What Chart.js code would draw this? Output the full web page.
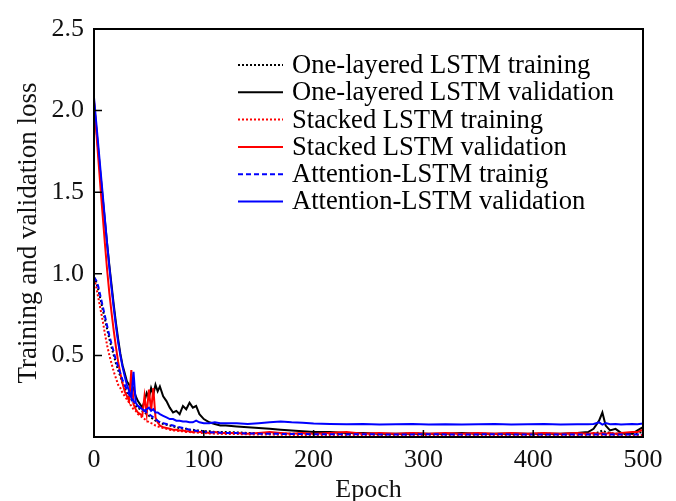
<!DOCTYPE html>
<html>
<head>
<meta charset="utf-8">
<script src="https://cdn.jsdelivr.net/npm/chart.js@4.4.1/dist/chart.umd.min.js"></script>
<style>
  html, body { margin: 0; padding: 0; background: #fff; }
  #wrap { width: 676px; height: 501px; }
</style>
</head>
<body>
<div id="wrap"><canvas id="chart" width="676" height="501"></canvas></div>
<script>
var epochs = [0,2,4,6,8,10,12,14,16,18,20,22,24,26,28,30,32,34,36,38,40,42,44,46,48,50,52,54,56,58,60,
  63,66,69,72,75,78,81,84,87,90,93,96,
  100,105,110,115,120,
  130,140,150,160,170,180,190,200,
  215,230,245,260,275,290,305,320,335,350,365,380,395,410,425,440,
  450,455,460,463,466,470,475,480,490,495,500]

var oneTrain = [0.98,0.95,0.90,0.84,0.78,0.72,0.66,0.60,0.55,0.50,0.45,0.41,0.37,0.33,0.30,0.27,0.25,0.23,0.21,0.19,0.18,0.17,0.16,0.15,0.14,0.13,0.12,0.11,0.10,0.095,0.09,
  0.08,0.075,0.07,0.065,0.06,0.055,0.05,0.05,0.045,0.045,0.04,0.04,
  0.035,0.035,0.03,0.03,0.03,
  0.028,0.025,0.025,0.022,0.02,0.02,0.02,0.018,
  0.018,0.02,0.018,0.017,0.018,0.02,0.018,0.017,0.018,0.02,0.018,0.017,0.018,0.02,0.018,0.017,
  0.018,0.02,0.03,0.04,0.03,0.025,0.02,0.018,0.02,0.025,0.03]

var oneVal = [2.05,1.90,1.75,1.60,1.46,1.32,1.18,1.05,0.93,0.81,0.70,0.60,0.51,0.44,0.39,0.34,0.32,0.28,0.30,0.25,0.22,0.20,0.18,0.22,0.27,0.24,0.30,0.26,0.32,0.28,0.31,
  0.25,0.22,0.18,0.15,0.16,0.14,0.19,0.17,0.21,0.18,0.19,0.14,
  0.11,0.09,0.08,0.07,0.07,
  0.065,0.06,0.055,0.05,0.045,0.04,0.035,0.03,
  0.03,0.025,0.025,0.02,0.02,0.022,0.02,0.02,0.025,0.02,0.02,0.022,0.02,0.02,0.02,0.025,
  0.03,0.05,0.10,0.15,0.07,0.04,0.05,0.025,0.02,0.04,0.06]

var stackTrain = [0.97,0.92,0.85,0.78,0.71,0.63,0.56,0.50,0.45,0.40,0.36,0.32,0.30,0.27,0.25,0.23,0.21,0.19,0.17,0.16,0.14,0.13,0.12,0.11,0.10,0.09,0.085,0.08,0.07,0.065,0.06,
  0.055,0.05,0.045,0.04,0.04,0.035,0.035,0.03,0.03,0.028,0.028,0.025,
  0.025,0.022,0.02,0.02,0.018,
  0.018,0.016,0.015,0.015,0.014,0.013,0.013,0.012,
  0.012,0.013,0.012,0.011,0.012,0.013,0.012,0.011,0.012,0.012,0.011,0.012,0.013,0.012,0.011,0.012,
  0.012,0.011,0.012,0.013,0.012,0.011,0.012,0.012,0.011,0.012,0.013]

var stackVal = [2.06,1.88,1.70,1.52,1.35,1.18,1.02,0.88,0.76,0.65,0.55,0.46,0.39,0.33,0.28,0.25,0.22,0.41,0.20,0.17,0.15,0.14,0.13,0.25,0.14,0.29,0.16,0.30,0.12,0.09,0.07,
  0.06,0.055,0.05,0.045,0.045,0.04,0.04,0.035,0.035,0.03,0.035,0.03,
  0.03,0.025,0.03,0.025,0.025,
  0.025,0.02,0.025,0.03,0.025,0.02,0.025,0.02,
  0.025,0.03,0.02,0.025,0.02,0.025,0.02,0.025,0.02,0.025,0.02,0.025,0.02,0.025,0.02,0.025,
  0.02,0.025,0.02,0.025,0.02,0.025,0.02,0.025,0.03,0.03,0.045]

var attTrain = [0.98,0.96,0.92,0.86,0.80,0.74,0.68,0.62,0.57,0.52,0.47,0.43,0.39,0.35,0.32,0.29,0.26,0.24,0.22,0.20,0.19,0.18,0.17,0.16,0.15,0.14,0.13,0.12,0.11,0.10,0.09,
  0.085,0.08,0.075,0.07,0.065,0.06,0.055,0.05,0.045,0.04,0.038,0.035,
  0.032,0.03,0.028,0.026,0.025,
  0.024,0.022,0.02,0.02,0.019,0.018,0.018,0.017,
  0.017,0.016,0.017,0.016,0.015,0.016,0.017,0.016,0.015,0.016,0.017,0.016,0.015,0.016,0.016,0.015,
  0.016,0.015,0.016,0.017,0.016,0.015,0.016,0.016,0.015,0.016,0.017]

var attVal = [2.08,1.93,1.78,1.63,1.48,1.33,1.18,1.04,0.91,0.79,0.68,0.58,0.50,0.43,0.37,0.32,0.28,0.24,0.40,0.21,0.19,0.18,0.17,0.16,0.17,0.18,0.16,0.17,0.15,0.15,0.14,
  0.13,0.12,0.11,0.11,0.10,0.10,0.095,0.095,0.09,0.09,0.10,0.09,
  0.085,0.085,0.09,0.085,0.085,
  0.085,0.08,0.085,0.09,0.095,0.09,0.088,0.082,
  0.08,0.078,0.08,0.076,0.078,0.08,0.077,0.078,0.076,0.078,0.08,0.077,0.078,0.08,0.077,0.078,
  0.078,0.08,0.09,0.076,0.085,0.078,0.08,0.077,0.08,0.078,0.082]

var seriesNames = ['One-layered LSTM training', 'One-layered LSTM validation',
  'Stacked LSTM training', 'Stacked LSTM validation',
  'Attention-LSTM trainig', 'Attention-LSTM validation']

var serif = '"Liberation Serif", "Times New Roman", serif'

function pts(vals) {
  return vals.map(function (v, i) { return { x: epochs[i], y: v } })
}

function line(label, vals, color, dash, order) {
  return {
    label: label,
    data: pts(vals),
    borderColor: color,
    borderWidth: 2,
    borderDash: dash,
    pointRadius: 0,
    tension: 0,
    fill: false,
    order: order
  }
}

// legend drawn inside the plot, top right
const insideLegend = {
  id: 'insideLegend',
  afterDatasetsDraw(chart) {
    const ctx = chart.ctx
    const a = chart.chartArea
    ctx.save()
    ctx.font = '26.6px ' + serif
    ctx.textBaseline = 'middle'
    chart.data.datasets.forEach(function (ds, i) {
      let y = a.top + 36 + i * 27.3
      ctx.strokeStyle = ds.borderColor
      ctx.lineWidth = 2
      ctx.setLineDash(ds.borderDash || [])
      ctx.beginPath()
      ctx.moveTo(a.left + 144, y)
      ctx.lineTo(a.left + 189, y)
      ctx.stroke()
      ctx.setLineDash([])
      ctx.fillStyle = '#000'
      ctx.fillText(ds.label, a.left + 198, y + 1)
    })
    ctx.restore()
  }
}

// box around the plot and inward tick marks
const frame = {
  id: 'frame',
  afterDraw(chart) {
    const ctx = chart.ctx
    const a = chart.chartArea
    const xs = chart.scales.x
    const ys = chart.scales.y
    ctx.save()
    ctx.strokeStyle = '#000'
    ctx.lineWidth = 2
    ctx.strokeRect(a.left, a.top, a.right - a.left, a.bottom - a.top)
    ctx.lineWidth = 1.5
    ctx.beginPath()
    xs.ticks.forEach(function (t) {
      if (t.value > xs.min && t.value < xs.max) {
        let px = xs.getPixelForValue(t.value)
        ctx.moveTo(px, a.bottom)
        ctx.lineTo(px, a.bottom - 7)
      }
    })
    ys.ticks.forEach(function (t) {
      if (t.value > ys.min && t.value < ys.max) {
        let py = ys.getPixelForValue(t.value)
        ctx.moveTo(a.left, py)
        ctx.lineTo(a.left + 8, py)
      }
    })
    ctx.stroke()
    ctx.restore()
  }
}

var ctx = document.getElementById('chart').getContext('2d')
var chart = new Chart(ctx, {
  type: 'line',
  data: {
    datasets: [
      line(seriesNames[0], oneTrain, '#000000', [2, 2], 5),
      line(seriesNames[1], oneVal, '#000000', [], 3),
      line(seriesNames[2], stackTrain, '#ff0000', [2, 2], 4),
      line(seriesNames[3], stackVal, '#ff0000', [], 2),
      line(seriesNames[4], attTrain, '#0000ff', [5, 3], 1),
      line(seriesNames[5], attVal, '#0000ff', [], 0)
    ]
  },
  options: {
    responsive: false,
    animation: false,
    layout: { padding: { top: 29, right: 33, left: 0, bottom: 0 } },
    plugins: {
      legend: { display: false },
      tooltip: { enabled: false }
    },
    scales: {
      x: {
        type: 'linear',
        min: 0,
        max: 500,
        grid: { display: false },
        border: { display: false },
        ticks: { stepSize: 100, color: '#111', font: { family: serif, size: 26 }, padding: 0, maxRotation: 0 },
        title: { display: true, text: 'Epoch', color: '#111', font: { family: serif, size: 26, lineHeight: 0.8 }, padding: { top: 0, bottom: 0 } },
        afterFit: function (s) { s.height = 64 }
      },
      y: {
        min: 0,
        max: 2.5,
        grid: { display: false },
        border: { display: false },
        ticks: {
          stepSize: 0.5,
          color: '#111',
          font: { family: serif, size: 26 },
          padding: 2,
          callback: function (v) { return v === 0 ? '' : v.toFixed(1) }
        },
        title: { display: true, text: 'Training and validation loss', color: '#111', font: { family: serif, size: 27 }, padding: { top: 13, bottom: 0 } },
        afterFit: function (s) { s.width = 94 }
      }
    }
  },
  plugins: [insideLegend, frame]
})
</script>
</body>
</html>
